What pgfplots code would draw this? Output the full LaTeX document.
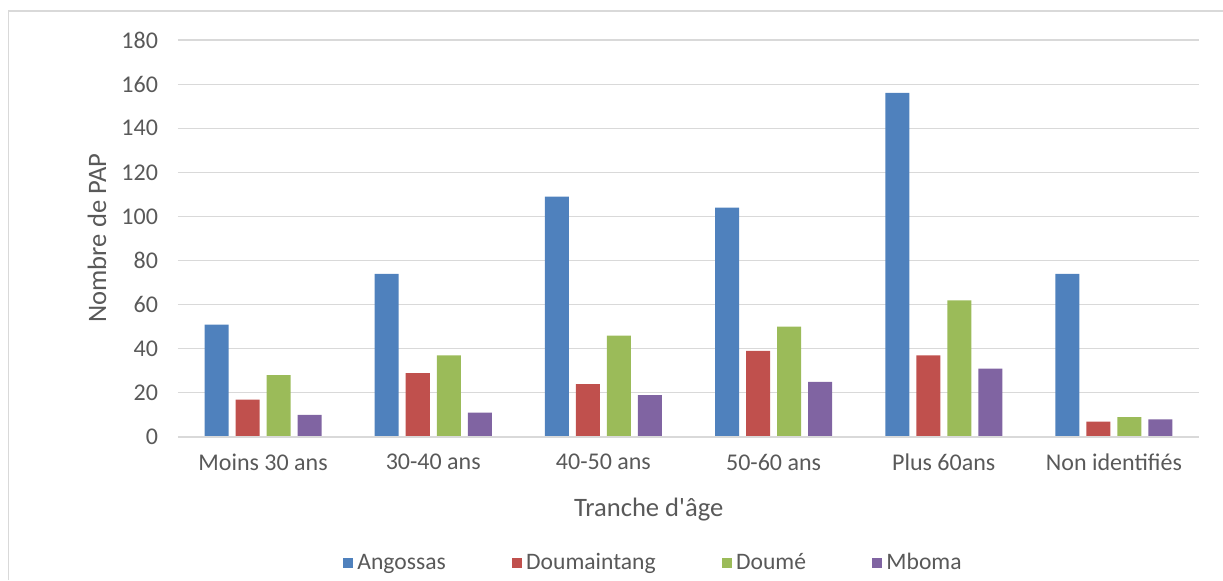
\documentclass[border=0pt]{standalone}
\usepackage{fontspec}
\setmainfont{Carlito}
\usepackage{pgfplots}
\pgfplotsset{compat=1.18}
\definecolor{cA}{HTML}{4F81BD}
\definecolor{cB}{HTML}{C0504D}
\definecolor{cC}{HTML}{9BBB59}
\definecolor{cD}{HTML}{8064A2}
\definecolor{gridc}{HTML}{D9D9D9}
\definecolor{txt}{HTML}{595959}
\begin{document}
\begin{tikzpicture}
\useasboundingbox (0,0) rectangle (611.5pt,290pt);
\draw[gridc, line width=0.6pt] (4.25pt,0) -- (4.25pt,284.5pt) -- (611.5pt,284.5pt);
\begin{axis}[
  at={(89pt,71.5pt)}, anchor=south west,
  scale only axis,
  width=510.5pt, height=198.5pt,
  ybar=3.5pt, bar width=12pt,
  xmin=-0.5, xmax=5.5,
  ymin=0, ymax=180,
  ytick={0,20,...,180},
  xtick={0,1,2,3,4,5},
  xticklabels={Moins 30 ans,30-40 ans,40-50 ans,50-60 ans,Plus 60ans,Non identifiés},
  major tick length=0pt,
  ymajorgrids, grid style={gridc, line width=0.6pt},
  axis line style={draw=none},
  /pgf/number format/assume math mode=true,
  tick label style={font=\fontsize{12}{14}\selectfont, text=txt},
  yticklabel style={xshift=-6.5pt},
  xticklabel style={yshift=-5pt},
  xlabel={Tranche d\textquotesingle âge},
  ylabel={Nombre de PAP},
  label style={font=\fontsize{13.3}{16}\selectfont, text=txt},
  xlabel style={at={(axis description cs:0.461,0)}, anchor=center, yshift=-36.5pt},
  ylabel style={at={(axis description cs:0,0.501)}, anchor=center, yshift=40.5pt},
  legend columns=4,
  legend style={at={(axis description cs:0.4665,0)}, anchor=center, yshift=-63pt,
    draw=none, font=\fontsize{11.8}{14}\selectfont, text=txt,
    /tikz/every even column/.append style={column sep=31pt}},
  legend image code/.code={\fill[#1] (0pt,-2.6pt) rectangle (5.2pt,2.6pt);},
  every axis plot/.append style={draw=none},
  clip=false,
]
\addplot[fill=cA] coordinates {(0,51) (1,74) (2,109) (3,104) (4,156) (5,74)};
\addplot[fill=cB] coordinates {(0,17) (1,29) (2,24) (3,39) (4,37) (5,7)};
\addplot[fill=cC] coordinates {(0,28) (1,37) (2,46) (3,50) (4,62) (5,9)};
\addplot[fill=cD] coordinates {(0,10) (1,11) (2,19) (3,25) (4,31) (5,8)};
\draw[gridc, line width=0.9pt] (axis cs:-0.5,0) -- (axis cs:5.5,0);
\legend{Angossas,Doumaintang,Doumé,Mboma}
\end{axis}
\end{tikzpicture}
\end{document}
